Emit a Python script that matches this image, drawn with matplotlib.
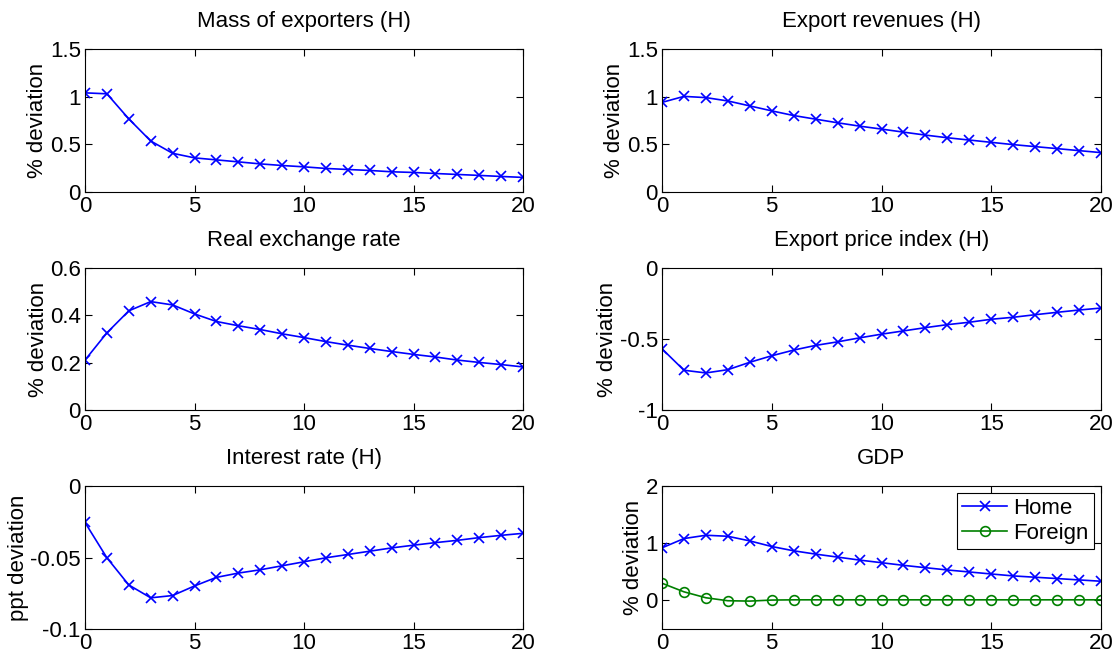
import matplotlib
matplotlib.use("Agg")
import matplotlib.pyplot as plt
import numpy as np

plt.rcParams["font.family"] = ["Liberation Sans", "DejaVu Sans"]

periods = list(range(21))

mass_exporters = [1.04, 1.03, 0.767, 0.535, 0.406, 0.358, 0.337, 0.316, 0.295, 0.278,
                  0.264, 0.247, 0.236, 0.226, 0.212, 0.205, 0.194, 0.184, 0.174, 0.163, 0.153]
export_revenues = [0.94, 1.003, 0.99, 0.955, 0.903, 0.851, 0.802, 0.764, 0.726, 0.691,
                   0.66, 0.628, 0.597, 0.569, 0.545, 0.521, 0.497, 0.476, 0.455, 0.434, 0.413]
real_exchange_rate = [0.211, 0.326, 0.419, 0.458, 0.444, 0.406, 0.374, 0.356, 0.340, 0.322,
                      0.306, 0.289, 0.274, 0.260, 0.247, 0.235, 0.224, 0.211, 0.201, 0.192, 0.182]
export_price_index = [-0.569, -0.720, -0.739, -0.716, -0.664, -0.618, -0.578, -0.545, -0.520, -0.492,
                      -0.466, -0.443, -0.420, -0.399, -0.382, -0.361, -0.347, -0.329, -0.312, -0.296, -0.282]
interest_rate = [-0.0255, -0.0502, -0.0692, -0.0782, -0.0766, -0.0699, -0.0639, -0.0609, -0.0586, -0.0558,
                 -0.0530, -0.0502, -0.0479, -0.0456, -0.0433, -0.0414, -0.0396, -0.0380, -0.0361, -0.0345, -0.0331]
gdp_home = [0.919, 1.081, 1.139, 1.121, 1.040, 0.942, 0.867, 0.809, 0.757, 0.705,
            0.659, 0.613, 0.572, 0.532, 0.497, 0.462, 0.428, 0.405, 0.382, 0.358, 0.335]
gdp_foreign = [0.30, 0.15, 0.046, -0.006, -0.012, 0.006, 0.01, 0.01, 0.01, 0.01,
               0.01, 0.01, 0.01, 0.01, 0.01, 0.01, 0.01, 0.01, 0.01, 0.01, 0.01]

BLUE = (0, 0, 1)
GREEN = (0, 0.5, 0)
FS = 16

fig = plt.figure(figsize=(11.14, 6.54), dpi=100)

W, H = 1114, 654
cols = [(85, 523), (662, 1101)]
rows = [(49, 192), (268, 410), (486, 629)]


def make_ax(r, c):
    x0, x1 = cols[c]
    y0, y1 = rows[r]
    ax = fig.add_axes([x0 / W, 1 - y1 / H, (x1 - x0) / W, (y1 - y0) / H])
    ax.set_xlim(0, 20)
    ax.set_xticks([0, 5, 10, 15, 20])
    ax.tick_params(direction="in", top=True, right=True, labelsize=FS,
                   length=5, width=0.8, pad=3)
    for s in ax.spines.values():
        s.set_linewidth(0.8)
    return ax


panels = [
    (0, 0, "Mass of exporters (H)", mass_exporters, (0, 1.5), [0, 0.5, 1, 1.5], ["0", "0.5", "1", "1.5"], "% deviation"),
    (0, 1, "Export revenues (H)", export_revenues, (0, 1.5), [0, 0.5, 1, 1.5], ["0", "0.5", "1", "1.5"], "% deviation"),
    (1, 0, "Real exchange rate", real_exchange_rate, (0, 0.6), [0, 0.2, 0.4, 0.6], ["0", "0.2", "0.4", "0.6"], "% deviation"),
    (1, 1, "Export price index (H)", export_price_index, (-1, 0), [-1, -0.5, 0], ["-1", "-0.5", "0"], "% deviation"),
    (2, 0, "Interest rate (H)", interest_rate, (-0.1, 0), [-0.1, -0.05, 0], ["-0.1", "-0.05", "0"], "ppt deviation"),
]

for r, c, title, vals, ylim, yt, ytl, ylab in panels:
    ax = make_ax(r, c)
    ax.plot(periods, vals, color=BLUE, marker="x", markersize=7, linewidth=1.2, markeredgewidth=1.2)
    ax.set_ylim(*ylim)
    ax.set_yticks(yt)
    ax.set_yticklabels(ytl)
    ax.set_title(title, fontsize=FS, pad=16)
    ax.set_ylabel(ylab, fontsize=FS, labelpad=1)

ax = make_ax(2, 1)
ax.plot(periods, gdp_home, color=BLUE, marker="x", markersize=7, linewidth=1.2,
        markeredgewidth=1.2, label="Home")
ax.plot(periods, gdp_foreign, color=GREEN, marker="o", markersize=7, linewidth=1.2,
        markerfacecolor="none", markeredgewidth=1.2, label="Foreign")
ax.set_ylim(-0.5, 2)
ax.set_yticks([0, 1, 2])
ax.set_title("GDP", fontsize=FS, pad=16)
ax.set_ylabel("% deviation", fontsize=FS, labelpad=1)
leg = ax.legend(loc="upper right", fontsize=FS, fancybox=False, framealpha=1,
                edgecolor="black", borderpad=0.25, labelspacing=0.15, handlelength=2.0,
                handletextpad=0.3, borderaxespad=0.3)
leg.get_frame().set_linewidth(0.8)

fig.savefig("out.png", dpi=100)
